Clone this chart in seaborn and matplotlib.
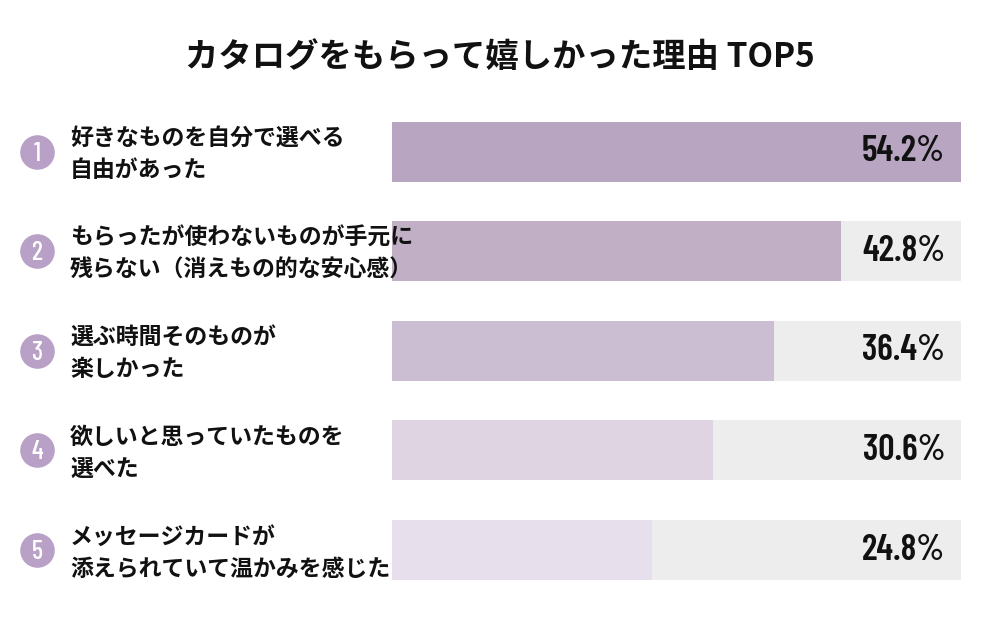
import matplotlib
matplotlib.use("Agg")
import matplotlib.pyplot as plt
from matplotlib import font_manager
import seaborn as sns
import pandas as pd

# data
ranks = ["1", "2", "3", "4", "5"]
reasons = [
    "好きなものを自分で選べる\n自由があった",
    "もらったが使わないものが手元に\n残らない（消えもの的な安心感）",
    "選ぶ時間そのものが\n楽しかった",
    "欲しいと思っていたものを\n選べた",
    "メッセージカードが\n添えられていて温かみを感じた",
]
values = [54.2, 42.8, 36.4, 30.6, 24.8]
bar_colors = ["#b9a0c6", "#c3abca", "#ccb9d5", "#dfd2e4", "#e8dded"]
title = "カタログをもらって嬉しかった理由 TOP5"

sns.set_theme(style="white")
plt.rcParams["font.family"] = ["Noto Sans CJK JP", "DejaVu Sans"]

# condensed family for the numbers
names = {f.name for f in font_manager.fontManager.ttflist}
num_font = [n for n in ["Barlow Condensed", "Roboto Condensed", "Archivo Narrow"]
            if n in names][:1] + ["DejaVu Sans"]

df = pd.DataFrame({"rank": ranks, "reason": reasons, "value": values})
df["track"] = max(values)

fig = plt.figure(figsize=(10, 6.18), dpi=100)
bottom = 1 - 599.8 / 618
height = 498 / 618

# bars
ax = fig.add_axes([0.392, bottom, 0.569, height])
sns.barplot(data=df, x="track", y="rank", color="#ededed", width=0.603,
            ax=ax, orient="h")
sns.barplot(data=df, x="value", y="rank", hue="rank", palette=bar_colors,
            width=0.603, ax=ax, orient="h", legend=False)
for p in ax.patches:
    p.set_linewidth(0)
ax.set_xlim(0, max(values))
ax.set_ylim(4.5, -0.5)
ax.set_axis_off()

for i, v in enumerate(values):
    ax.annotate(f"{v:.1f}%", xy=(1, i), xycoords=("axes fraction", "data"),
                xytext=(-11.5, 0), textcoords="offset points",
                ha="right", va="center", fontsize=26, fontweight="semibold",
                family=num_font, color="#111111")

# left side: rank circles and labels
axl = fig.add_axes([0, bottom, 0.39, height])
axl.set_xlim(0, 390)
axl.set_ylim(4.5, -0.5)
axl.set_axis_off()
axl.scatter([37] * len(ranks), range(len(ranks)), s=620, color="#b9a0c6",
            linewidths=0, zorder=2)
for i, (r, txt) in enumerate(zip(ranks, reasons)):
    axl.text(37, i + 0.02, r, ha="center", va="center", color="white",
             fontsize=19, fontweight="medium", family=num_font, zorder=3)
    axl.text(70, i + 0.03, txt, ha="left", va="center", fontsize=16.5,
             fontweight="bold", color="#111111", linespacing=1.5)

fig.text(0.5, 1 - 58 / 618, title, ha="center", va="center", fontsize=24,
         fontweight="bold", color="#111111")

fig.savefig("out.png", dpi=100, facecolor="white")
